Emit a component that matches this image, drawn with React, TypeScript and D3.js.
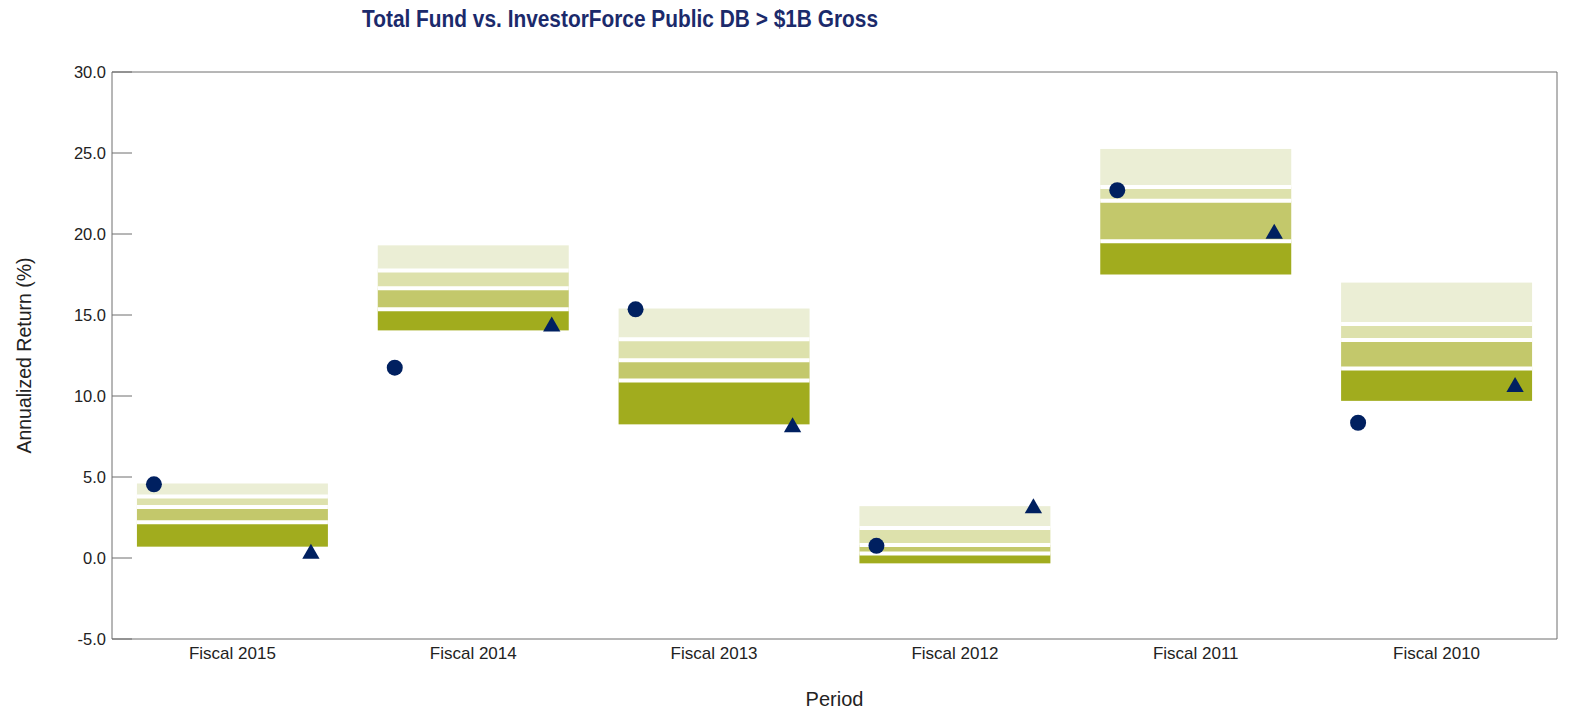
import React from 'react';
import * as d3 from 'd3';

const categories = ['Fiscal 2015', 'Fiscal 2014', 'Fiscal 2013', 'Fiscal 2012', 'Fiscal 2011', 'Fiscal 2010'];
const p95 = [4.6, 19.3, 15.4, 3.2, 25.25, 17.0];
const p75 = [3.8, 17.75, 13.5, 1.85, 22.9, 14.45];
const p50 = [3.15, 16.65, 12.2, 0.8, 22.05, 13.45];
const p25 = [2.2, 15.35, 10.95, 0.28, 19.55, 11.7];
const p5 = [0.7, 14.05, 8.25, -0.33, 17.5, 9.7];
const totalFund = [4.55, 11.75, 15.35, 0.75, 22.7, 8.35];
const benchmark = [0.36, 14.38, 8.16, 3.16, 20.11, 10.65];
const yTicks = [-5, 0, 5, 10, 15, 20, 25, 30];

const W = 1569;
const H = 710;
const left = 112;
const right = 1557;
const top = 72;
const bottom = 639;

const bandColors = ['#ebeed5', '#dde1ac', '#c3c86b', '#a1ac1e'];
const navy = '#002060';
const font = "'Liberation Sans', Arial, sans-serif";

export default function App() {
  const x = d3.scaleBand<string>().domain(categories).range([left, right]).padding(0);
  const y = d3.scaleLinear().domain([-5, 30]).range([bottom, top]);
  const boxW = x.bandwidth() * 0.793;
  const tri = d3.symbol().type(d3.symbolTriangle).size(130);

  return (
    <svg width={W} height={H} style={{ position: 'absolute', left: 0, top: 0, background: '#fff' }}>
      <text
        x={362}
        y={27}
        textLength={516}
        lengthAdjust="spacingAndGlyphs"
        fontFamily={font}
        fontWeight="bold"
        fontSize={24}
        fill="#1b2a6b"
      >
        Total Fund vs. InvestorForce Public DB &gt; $1B Gross
      </text>

      {categories.map((c, i) => {
        const x0 = (x(c) as number) + (x.bandwidth() - boxW) / 2;
        const edges = [p95[i], p75[i], p50[i], p25[i], p5[i]];
        return (
          <g key={c}>
            {bandColors.map((col, j) => (
              <rect key={j} x={x0} width={boxW} y={y(edges[j])} height={y(edges[j + 1]) - y(edges[j])} fill={col} />
            ))}
            {edges.slice(1, 4).map((v, j) => (
              <line key={'w' + j} x1={x0} x2={x0 + boxW} y1={y(v)} y2={y(v)} stroke="#fff" strokeWidth={4} />
            ))}
          </g>
        );
      })}

      <line x1={left} x2={right} y1={top} y2={top} stroke="#6e6e6e" />
      <line x1={right} x2={right} y1={top} y2={bottom} stroke="#6e6e6e" />
      <line x1={left} x2={right} y1={bottom} y2={bottom} stroke="#6e6e6e" />
      <line x1={left} x2={left} y1={top} y2={bottom} stroke="#6e6e6e" />
      {yTicks.map((t) => (
        <g key={t}>
          <line x1={left} x2={left + 20} y1={y(t)} y2={y(t)} stroke="#6e6e6e" />
          <text x={106} y={y(t)} dy="0.35em" textAnchor="end" fontFamily={font} fontSize={16.5} fill="#222">
            {t.toFixed(1)}
          </text>
        </g>
      ))}

      {categories.map((c, i) => {
        const x0 = (x(c) as number) + (x.bandwidth() - boxW) / 2;
        return (
          <g key={'m' + c}>
            <circle cx={x0 + 17} cy={y(totalFund[i])} r={8} fill={navy} />
            <path d={tri() as string} transform={`translate(${x0 + boxW - 17},${y(benchmark[i]) + 1.5})`} fill={navy} />
            <text x={(x(c) as number) + x.bandwidth() / 2} y={659} textAnchor="middle" fontFamily={font} fontSize={17} fill="#222">
              {c}
            </text>
          </g>
        );
      })}

      <text x={(left + right) / 2} y={706} textAnchor="middle" fontFamily={font} fontSize={20} fill="#222">
        Period
      </text>
      <text
        transform={`translate(31,${(top + bottom) / 2}) rotate(-90)`}
        textAnchor="middle"
        fontFamily={font}
        fontSize={19.5}
        fill="#222"
      >
        Annualized Return (%)
      </text>
    </svg>
  );
}
